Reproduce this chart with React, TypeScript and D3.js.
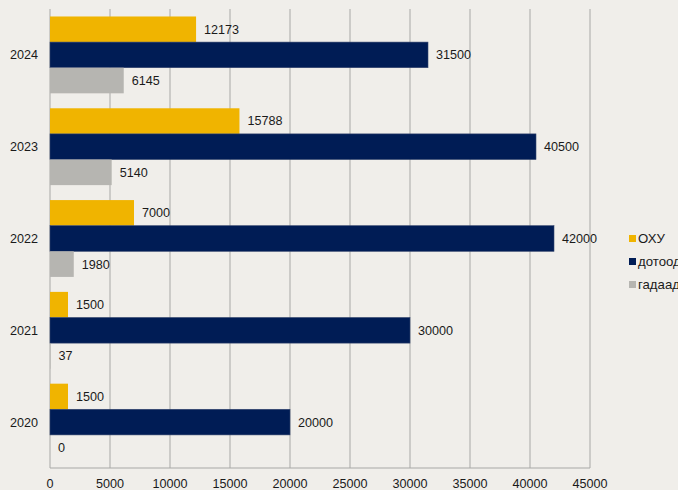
import React from "react";
import * as d3 from "d3";

const years = ["2024", "2023", "2022", "2021", "2020"];
const seriesNames = ["ОХУ", "дотоод", "гадаад"];
const ohu = [12173, 15788, 7000, 1500, 1500];
const dotood = [31500, 40500, 42000, 30000, 20000];
const gadaad = [6145, 5140, 1980, 37, 0];
const xTicks = [0, 5000, 10000, 15000, 20000, 25000, 30000, 35000, 40000, 45000];
const colors = ["#F0B400", "#001C55", "#B6B5B1"];

const W = 678, H = 490;
const left = 50, right = 590, top = 9, bottom = 468;

export default function App() {
  const x = d3.scaleLinear().domain([0, 45000]).range([left, right]);
  const y = d3.scaleBand<string>().domain(years).range([top, bottom]);
  const bw = y.bandwidth() * 0.279;
  const off = (y.bandwidth() - 3 * bw) / 2;
  const series = [ohu, dotood, gadaad];
  const font = "'Liberation Sans', Arial, sans-serif";
  const fs = 12.6;
  return (
    <svg width={W} height={H} style={{ position: "absolute", left: 0, top: 0, fontFamily: font }}>
      <rect x={0} y={0} width={W} height={H} fill="#F0EEEA" />
      {xTicks.map((t) => (
        <line key={t} x1={x(t)} x2={x(t)} y1={top} y2={bottom} stroke="#A8A8A6" strokeWidth={1} />
      ))}
      <line x1={left} x2={right} y1={bottom} y2={bottom} stroke="#A8A8A6" strokeWidth={1} />
      {years.map((yr, i) => (
        <g key={yr}>
          {series.map((s, j) => {
            const y0 = (y(yr) as number) + off + j * bw;
            return (
              <g key={j}>
                {s[i] > 0 && (
                  <rect x={x(0)} y={y0} width={x(s[i]) - x(0)} height={bw} fill={colors[j]}
                    stroke={j === 1 ? "#34466e" : "none"} strokeWidth={0.6} />
                )}
                <text x={x(s[i]) + 8} y={y0 + bw / 2} dy="0.35em" fontSize={fs} fill="#1a1a1a">
                  {s[i]}
                </text>
              </g>
            );
          })}
          <text x={38} y={(y(yr) as number) + y.bandwidth() / 2} dy="0.35em" textAnchor="end" fontSize={fs} fill="#1a1a1a">
            {yr}
          </text>
        </g>
      ))}
      {xTicks.map((t) => (
        <text key={t} x={x(t)} y={484} dy="0.35em" textAnchor="middle" fontSize={fs} fill="#1a1a1a">
          {t}
        </text>
      ))}
      {seriesNames.map((n, j) => (
        <g key={n}>
          <rect x={629} y={235 + j * 23} width={7} height={7} fill={colors[j]} />
          <text x={638} y={238.5 + j * 23} dy="0.35em" fontSize={13.2} fill="#1a1a1a">
            {n}
          </text>
        </g>
      ))}
    </svg>
  );
}
